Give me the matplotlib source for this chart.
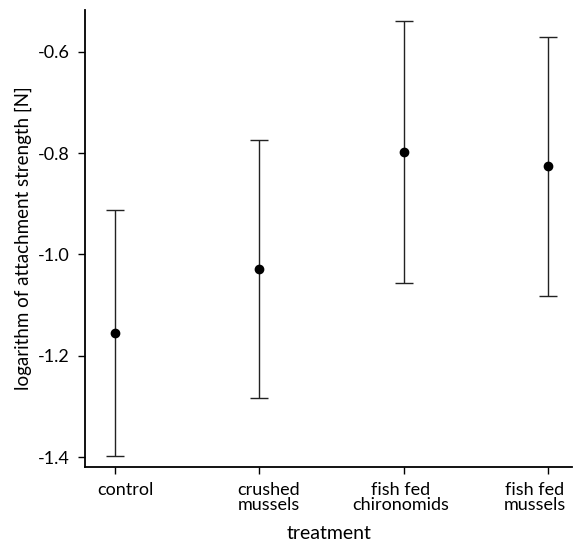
import matplotlib
matplotlib.use("Agg")
import matplotlib.pyplot as plt
from matplotlib.transforms import ScaledTranslation

categories = ["control", "crushed\nmussels", "fish fed\nchironomids", "fish fed\nmussels"]
means = [-1.155, -1.028, -0.798, -0.825]
upper = [-0.912, -0.774, -0.540, -0.570]
lower = [-1.398, -1.284, -1.057, -1.083]
yticks = [-1.4, -1.2, -1.0, -0.8, -0.6]

plt.rcParams['font.family'] = ['Lato', 'DejaVu Sans']

fig = plt.figure(figsize=(5.75, 5.42), dpi=100)
ax = fig.add_axes([0.148, 0.138, 0.847, 0.844])

x = list(range(len(categories)))
yerr = [[m - l for m, l in zip(means, lower)], [u - m for m, u in zip(means, upper)]]
ax.errorbar(x, means, yerr=yerr, fmt='o', color='black', ecolor='#222222',
            elinewidth=1.0, capsize=6.5, capthick=1.0, markersize=6)

ax.set_xlim(-0.21, 3.17)
ax.set_ylim(-1.42, -0.517)
ax.set_xticks(x)
ax.set_xticklabels(categories, fontsize=13, linespacing=0.85)
ax.set_yticks(yticks)
ax.set_yticklabels([f"{t:.1f}" for t in yticks], fontsize=13)
ax.set_xlabel("treatment", fontsize=14, labelpad=9)
ax.set_ylabel("logarithm of attachment strength [N]", fontsize=13.5, labelpad=4)
for s in ["top", "right"]:
    ax.spines[s].set_visible(False)
for s in ["left", "bottom"]:
    ax.spines[s].set_linewidth(1.3)
ax.tick_params(length=5, width=1.0, direction='out', pad=6)

offsets_px = [10, 9, -3, -13]
for lab, dx in zip(ax.get_xticklabels(), offsets_px):
    lab.set_transform(lab.get_transform() + ScaledTranslation(dx / 100, 0, fig.dpi_scale_trans))

fig.savefig("out.png", dpi=100)
